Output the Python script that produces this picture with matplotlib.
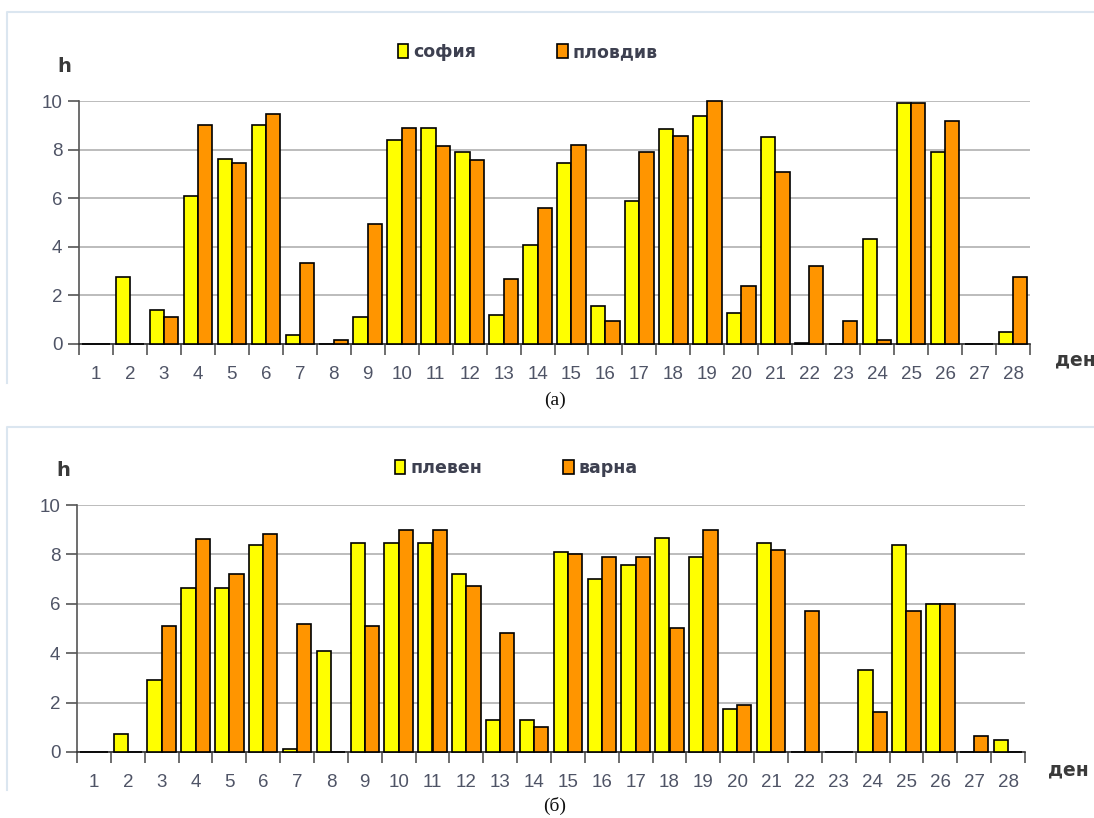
import numpy as np
import matplotlib.pyplot as plt
from matplotlib.lines import Line2D

# days 1..28
days = [str(d) for d in range(1, 29)]

# (a) sunshine hours
sofia = [0, 2.75, 1.4, 6.1, 7.6, 9.03, 0.36, 0, 1.11, 8.41, 8.88, 7.91, 1.18, 4.09,
         7.46, 1.57, 5.88, 8.86, 9.38, 1.27, 8.5, 0.05, 0, 4.31, 9.93, 7.89, 0, 0.51]
plovdiv = [0, 0, 1.11, 9.03, 7.46, 9.47, 3.35, 0.15, 4.92, 8.88, 8.13, 7.59, 2.67, 5.58,
           8.19, 0.96, 7.91, 8.58, 10.0, 2.38, 7.07, 3.19, 0.96, 0.15, 9.93, 9.17, 0, 2.75]

# (b) sunshine hours
pleven = [0, 0.73, 2.92, 6.64, 6.64, 8.4, 0.13, 4.1, 8.46, 8.46, 8.46, 7.22, 1.29, 1.29,
          8.09, 6.99, 7.59, 8.68, 7.88, 1.74, 8.46, 0, 0, 3.3, 8.4, 6.0, 0, 0.5]
varna = [0, 0, 5.11, 8.63, 7.22, 8.83, 5.19, 0, 5.11, 8.99, 8.99, 6.71, 4.82, 1.01,
         8.02, 7.88, 7.88, 5.03, 8.99, 1.89, 8.18, 5.69, 0, 1.6, 5.69, 6.0, 0.65, 0]

W, H = 1094, 818
fig = plt.figure(figsize=(W / 100, H / 100), dpi=100)
plt.rcParams['font.family'] = ['Liberation Sans', 'DejaVu Sans']

yellow = '#ffff00'
orange = '#ff9500'
tick_col = '#4f5466'
lab_col = '#3a3a3a'


def px(x0, y0, x1, y1):
    # pixel box -> figure fraction [left, bottom, width, height]
    return [x0 / W, 1 - y1 / H, (x1 - x0) / W, (y1 - y0) / H]


def frame(y0, y1):
    # only the left and top edges of the chart frame show
    xs = [7 / W, 7 / W, 1.0]
    ys = [1 - y1 / H, 1 - y0 / H, 1 - y0 / H]
    fig.lines.append(Line2D(xs, ys, transform=fig.transFigure, color='#dbe6f0', lw=1.5))


def panel(box, s1, s2, n1, n2, leg_x, leg_y, h_pos, den_pos, cap, cap_y):
    ax = fig.add_axes(px(*box))
    x = np.arange(len(days))
    w = 0.42
    ax.bar(x - w / 2, s1, w, color=yellow, edgecolor='black', lw=1.2,
           label=n1, zorder=3, clip_on=False)
    ax.bar(x + w / 2, s2, w, color=orange, edgecolor='black', lw=1.2,
           label=n2, zorder=3, clip_on=False)
    ax.set_xlim(-0.5, len(days) - 0.5)
    ax.set_ylim(0, 10)
    ax.set_yticks([0, 2, 4, 6, 8, 10])
    ax.yaxis.grid(True, color='#b0b0b0', lw=1.2, zorder=0)
    ax.set_axisbelow(True)
    for s in ['top', 'right']:
        ax.spines[s].set_visible(False)
    ax.spines['left'].set_color('#555555')
    ax.spines['bottom'].set_color('#333333')
    ax.spines['left'].set_linewidth(1.2)
    ax.spines['bottom'].set_linewidth(1.2)
    # boundary ticks without labels, centred labels without ticks
    ax.set_xticks(np.arange(-0.5, len(days)), [''] * (len(days) + 1))
    ax.set_xticks(x, days, minor=True)
    ax.tick_params(axis='x', which='major', length=8, width=1.2, color='#555555')
    ax.tick_params(axis='x', which='minor', length=0, pad=15.5, labelsize=13.5,
                   labelcolor=tick_col)
    ax.tick_params(axis='y', length=8, width=1.2, color='#555555', pad=4,
                   labelsize=13.5, labelcolor=tick_col)
    fig.text(h_pos[0] / W, 1 - h_pos[1] / H, 'h', fontsize=14, fontweight='bold',
             family='DejaVu Sans', color=lab_col, ha='center', va='center')
    fig.text(den_pos[0] / W, 1 - den_pos[1] / H, 'ден', fontsize=13.5, fontweight='bold',
             family='DejaVu Sans', color=lab_col, ha='left', va='center')
    ax.legend(loc='center left', bbox_to_anchor=(leg_x / W, 1 - leg_y / H),
              bbox_transform=fig.transFigure, ncol=2, frameon=False,
              handlelength=0.6, handleheight=0.85, handletextpad=0.3,
              columnspacing=4.65, borderpad=0, borderaxespad=0,
              prop={'weight': 'bold', 'size': 12.5, 'family': 'DejaVu Sans'})
    for t in ax.get_legend().get_texts():
        t.set_color('#3d4050')
    fig.text(555 / W, 1 - cap_y / H, cap, fontsize=14, family='Liberation Serif',
             ha='center', va='center', color='#111111')
    return ax


frame(12, 383)
frame(427, 790)
panel((79, 101, 1030, 344), sofia, plovdiv, 'софия', 'пловдив', 398, 52,
      (64, 66), (1055, 360), '(а)', 400)
panel((77, 505, 1025, 752), pleven, varna, 'плевен', 'варна', 395, 468,
      (63, 470), (1048, 770), '(б)', 806)

fig.savefig('out.png', dpi=100)
